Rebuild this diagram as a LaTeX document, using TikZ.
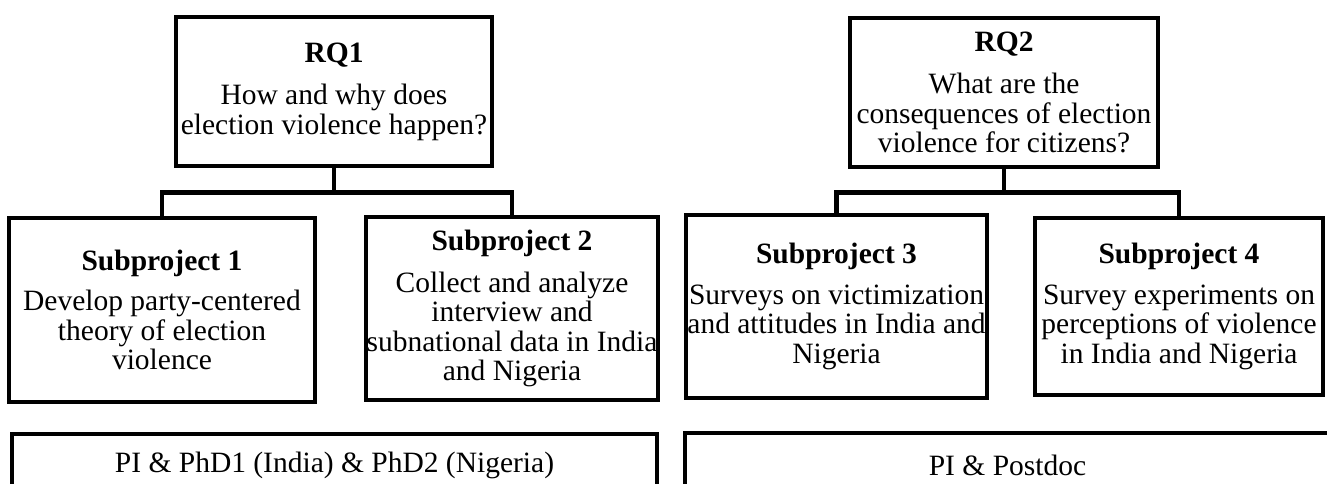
\documentclass[tikz,border=0pt]{standalone}
\usepackage{fontspec}
\setmainfont{Liberation Serif}
\usepackage{tikz}
\usetikzlibrary{positioning, calc}

\begin{document}
\begin{tikzpicture}[
  x=1pt, y=-1pt,
  box/.style={draw, line width=4.5pt, align=center, inner sep=0pt, font=\fontsize{29.5}{29.5}\selectfont},
  link/.style={line width=4.5pt}
]
\useasboundingbox (0,0) rectangle (1327,484);

% Research questions
\node[box, minimum width=316pt, minimum height=149pt] (rq1) at (334,91.5) {\textbf{RQ1}\\[13pt]How and why does\\election violence happen?};
\node[box, minimum width=308pt, minimum height=149pt] (rq2) at (1004,92.5) {\textbf{RQ2}\\[12.5pt]What are the\\consequences of election\\violence for citizens?};

% Subprojects
\node[box, minimum width=306pt, minimum height=184pt] (sub1) at (162,310) {\textbf{Subproject 1}\\[11pt]Develop party-centered\\theory of election\\violence};
\node[box, minimum width=292pt, minimum height=183pt] (sub2) at (512,308.5) {\textbf{Subproject 2}\\[12pt]Collect and analyze\\interview and\\subnational data in India\\and Nigeria};
\node[box, minimum width=301pt, minimum height=183pt] (sub3) at (836.5,306.5) {\textbf{Subproject 3}\\[11pt]Surveys on victimization\\and attitudes in India and\\Nigeria};
\node[box, minimum width=288pt, minimum height=177pt] (sub4) at (1179,306.5) {\textbf{Subproject 4}\\[11pt]Survey experiments on\\perceptions of violence\\in India and Nigeria};

% Teams
\node[box, minimum width=645pt, minimum height=63pt] (team1) at (334.5,465.5) {PI \& PhD1 (India) \& PhD2 (Nigeria)};
\node[box, minimum width=645pt, minimum height=64pt] (team2) at (1007.5,465) {PI \& Postdoc};

% Connectors
\coordinate (bar1) at (334,192.5);
\coordinate (bar2) at (1004,192.5);
\draw[link] (rq1.south) -- (bar1);
\draw[link] (sub1.north) |- (bar1) -| (sub2.north);
\draw[link] (rq2.south) -- (bar2);
\draw[link] (sub3.north) |- (bar2) -| (sub4.north);

\end{tikzpicture}
\end{document}
